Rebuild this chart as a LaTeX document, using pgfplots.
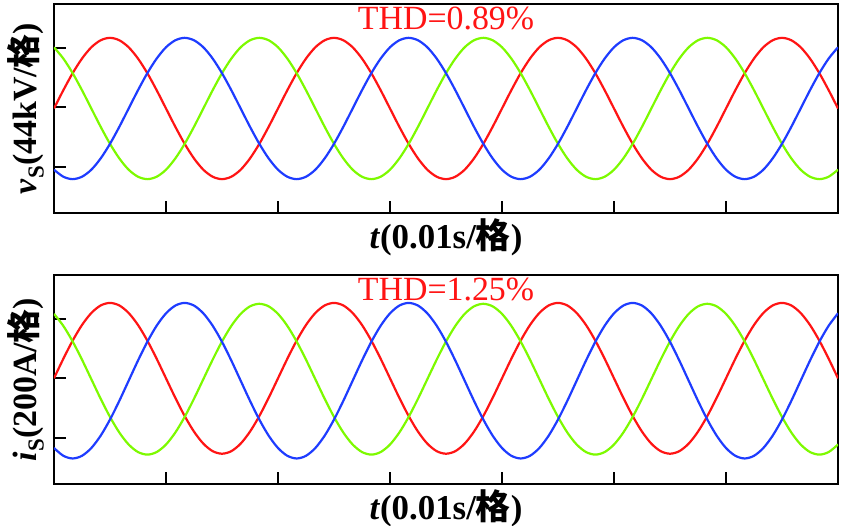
\documentclass[border=0pt]{standalone}
\usepackage{pgfplots}
\pgfplotsset{compat=1.18}
\usepackage{pgfplotstable}
\usepackage{fontspec}
\setmainfont{Liberation Serif}
\newfontfamily\cjk{Noto Sans CJK SC}

\definecolor{phA}{RGB}{255,20,20}
\definecolor{phB}{RGB}{30,60,255}
\definecolor{phC}{RGB}{125,250,0}

% x in electrical degrees (50 Hz: 180 deg = 0.01 s), y in divisions
\pgfplotstableread{
x r b g
0 -0.020 -1.051 1.011
15 0.288 -1.169 0.821
30 0.575 -1.210 0.575
45 0.821 -1.169 0.288
60 1.011 -1.051 -0.020
75 1.129 -0.861 -0.328
90 1.170 -0.615 -0.615
105 1.129 -0.328 -0.861
120 1.011 -0.020 -1.051
135 0.821 0.288 -1.169
150 0.575 0.575 -1.210
165 0.288 0.821 -1.169
180 -0.020 1.011 -1.051
195 -0.328 1.129 -0.861
210 -0.615 1.170 -0.615
225 -0.861 1.129 -0.328
240 -1.051 1.011 -0.020
255 -1.169 0.821 0.288
270 -1.210 0.575 0.575
285 -1.169 0.288 0.821
300 -1.051 -0.020 1.011
315 -0.861 -0.328 1.129
330 -0.615 -0.615 1.170
345 -0.328 -0.861 1.129
360 -0.020 -1.051 1.011
375 0.288 -1.169 0.821
390 0.575 -1.210 0.575
405 0.821 -1.169 0.288
420 1.011 -1.051 -0.020
435 1.129 -0.861 -0.328
450 1.170 -0.615 -0.615
465 1.129 -0.328 -0.861
480 1.011 -0.020 -1.051
495 0.821 0.288 -1.169
510 0.575 0.575 -1.210
525 0.288 0.821 -1.169
540 -0.020 1.011 -1.051
555 -0.328 1.129 -0.861
570 -0.615 1.170 -0.615
585 -0.861 1.129 -0.328
600 -1.051 1.011 -0.020
615 -1.169 0.821 0.288
630 -1.210 0.575 0.575
645 -1.169 0.288 0.821
660 -1.051 -0.020 1.011
675 -0.861 -0.328 1.129
690 -0.615 -0.615 1.170
705 -0.328 -0.861 1.129
720 -0.020 -1.051 1.011
735 0.288 -1.169 0.821
750 0.575 -1.210 0.575
765 0.821 -1.169 0.288
780 1.011 -1.051 -0.020
795 1.129 -0.861 -0.328
810 1.170 -0.615 -0.615
825 1.129 -0.328 -0.861
840 1.011 -0.020 -1.051
855 0.821 0.288 -1.169
870 0.575 0.575 -1.210
885 0.288 0.821 -1.169
900 -0.020 1.011 -1.051
915 -0.328 1.129 -0.861
930 -0.615 1.170 -0.615
945 -0.861 1.129 -0.328
960 -1.051 1.011 -0.020
975 -1.169 0.821 0.288
990 -1.210 0.575 0.575
1005 -1.169 0.288 0.821
1020 -1.051 -0.020 1.011
1035 -0.861 -0.328 1.129
1050 -0.615 -0.615 1.170
1065 -0.328 -0.861 1.129
1080 -0.020 -1.051 1.011
1095 0.288 -1.169 0.821
1110 0.575 -1.210 0.575
1125 0.821 -1.169 0.288
1140 1.011 -1.051 -0.020
1155 1.129 -0.861 -0.328
1170 1.170 -0.615 -0.615
1185 1.129 -0.328 -0.861
1200 1.011 -0.020 -1.051
1215 0.821 0.288 -1.169
1230 0.575 0.575 -1.210
1245 0.288 0.821 -1.169
1260 -0.020 1.011 -1.051
}\voltdata

\pgfplotstableread{
x r b g
0 0.000 -1.174 1.085
15 0.329 -1.305 0.883
30 0.635 -1.350 0.620
45 0.898 -1.305 0.314
60 1.100 -1.174 -0.015
75 1.227 -0.966 -0.344
90 1.270 -0.695 -0.650
105 1.227 -0.379 -0.913
120 1.100 -0.040 -1.115
135 0.898 0.299 -1.242
150 0.635 0.615 -1.285
165 0.329 0.886 -1.242
180 0.000 1.094 -1.115
195 -0.329 1.225 -0.913
210 -0.635 1.270 -0.650
225 -0.898 1.225 -0.344
240 -1.100 1.094 -0.015
255 -1.227 0.886 0.314
270 -1.270 0.615 0.620
285 -1.227 0.299 0.883
300 -1.100 -0.040 1.085
315 -0.898 -0.379 1.212
330 -0.635 -0.695 1.255
345 -0.329 -0.966 1.212
360 0.000 -1.174 1.085
375 0.329 -1.305 0.883
390 0.635 -1.350 0.620
405 0.898 -1.305 0.314
420 1.100 -1.174 -0.015
435 1.227 -0.966 -0.344
450 1.270 -0.695 -0.650
465 1.227 -0.379 -0.913
480 1.100 -0.040 -1.115
495 0.898 0.299 -1.242
510 0.635 0.615 -1.285
525 0.329 0.886 -1.242
540 0.000 1.094 -1.115
555 -0.329 1.225 -0.913
570 -0.635 1.270 -0.650
585 -0.898 1.225 -0.344
600 -1.100 1.094 -0.015
615 -1.227 0.886 0.314
630 -1.270 0.615 0.620
645 -1.227 0.299 0.883
660 -1.100 -0.040 1.085
675 -0.898 -0.379 1.212
690 -0.635 -0.695 1.255
705 -0.329 -0.966 1.212
720 0.000 -1.174 1.085
735 0.329 -1.305 0.883
750 0.635 -1.350 0.620
765 0.898 -1.305 0.314
780 1.100 -1.174 -0.015
795 1.227 -0.966 -0.344
810 1.270 -0.695 -0.650
825 1.227 -0.379 -0.913
840 1.100 -0.040 -1.115
855 0.898 0.299 -1.242
870 0.635 0.615 -1.285
885 0.329 0.886 -1.242
900 0.000 1.094 -1.115
915 -0.329 1.225 -0.913
930 -0.635 1.270 -0.650
945 -0.898 1.225 -0.344
960 -1.100 1.094 -0.015
975 -1.227 0.886 0.314
990 -1.270 0.615 0.620
1005 -1.227 0.299 0.883
1020 -1.100 -0.040 1.085
1035 -0.898 -0.379 1.212
1050 -0.635 -0.695 1.255
1065 -0.329 -0.966 1.212
1080 0.000 -1.174 1.085
1095 0.329 -1.305 0.883
1110 0.635 -1.350 0.620
1125 0.898 -1.305 0.314
1140 1.100 -1.174 -0.015
1155 1.227 -0.966 -0.344
1170 1.270 -0.695 -0.650
1185 1.227 -0.379 -0.913
1200 1.100 -0.040 -1.115
1215 0.898 0.299 -1.242
1230 0.635 0.615 -1.285
1245 0.329 0.886 -1.242
1260 0.000 1.094 -1.115
}\currdata

\tikzset{thd/.style={anchor=north, inner sep=0pt, text=phA, font=\fontsize{34}{34}\selectfont}}

\pgfplotsset{
  wave/.style={
    scale only axis,
    width=784bp, height=209bp,
    anchor=south west,
    xmin=0, xmax=1260,
    ymin=-1.78, ymax=1.74,
    xtick={180,360,...,1080},
    ytick={-1,0,1},
    xticklabels={}, yticklabels={},
    tick pos=left,
    tick align=inside,
    major tick length=12bp,
    every tick/.style={black, line width=1.8bp},
    axis line style={line width=2bp},
    every axis plot/.append style={line width=2.2bp, smooth, mark=none},
    xlabel style={at={(axis description cs:0.5,0)}, anchor=north, inner sep=0pt, yshift=-5bp,
      font=\bfseries\fontsize{35}{35}\selectfont},
    ylabel style={at={(axis description cs:0,0.5)}, anchor=south, inner sep=0pt, yshift=10bp,
      font=\bfseries\fontsize{34}{34}\selectfont},
  },
}

\begin{document}
\begin{tikzpicture}
\path[use as bounding box] (0bp,0bp) rectangle (841bp,526bp);

\begin{axis}[wave, at={(54bp,313bp)},
    xlabel={\textit{t}(0.01s/{\cjk 格})},
    ylabel={\textit{v}\raisebox{-0.22em}{\fontsize{23}{23}\selectfont S}(44kV/{\cjk 格})}]
  \addplot[phA] table[x=x, y=r] {\voltdata};
  \addplot[phC] table[x=x, y=g] {\voltdata};
  \addplot[phB] table[x=x, y=b] {\voltdata};
  \node[thd] at (axis description cs:0.5,0.985) {THD=0.89\%};
\end{axis}

\begin{axis}[wave, at={(54bp,42bp)},
    xlabel={\textit{t}(0.01s/{\cjk 格})},
    ylabel={\textit{i}\raisebox{-0.22em}{\fontsize{23}{23}\selectfont S}(200A/{\cjk 格})}]
  \addplot[phA] table[x=x, y=r] {\currdata};
  \addplot[phC] table[x=x, y=g] {\currdata};
  \addplot[phB] table[x=x, y=b] {\currdata};
  \node[thd] at (axis description cs:0.5,0.985) {THD=1.25\%};
\end{axis}
\end{tikzpicture}
\end{document}
